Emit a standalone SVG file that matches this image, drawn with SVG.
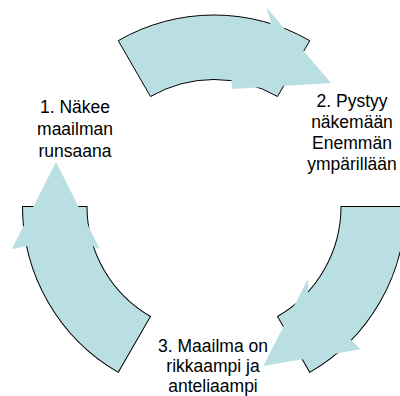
<svg xmlns="http://www.w3.org/2000/svg" xmlns:xlink="http://www.w3.org/1999/xlink" width="400" height="396" viewBox="0 0 400 396">
  <style>
    .body { fill: #badfe3; stroke: #000; stroke-width: 1; stroke-linejoin: miter; }
    .head { fill: #badfe3; stroke: none; }
    .label { font-family: "Liberation Sans", Arial, sans-serif; font-size: 17.5px; fill: #000; text-anchor: middle; }
  </style>
  <defs>
    <!-- one 60-degree band of the ring, centre (214,206.5), radii 191.5 / 127 -->
    <path id="band" d="M 118.25 40.66 A 191.5 191.5 0 0 1 309.75 40.66 L 277.5 96.51 A 127 127 0 0 0 150.5 96.51 Z"/>
  </defs>

  <g id="connectors">
    <g id="arrow-1-2">
      <use xlink:href="#band" class="body"/>
      <polygon class="head" points="331,83 232,89 231.5,80.7 271,22.5 266,7"/>
    </g>
    <g id="arrow-2-3">
      <use xlink:href="#band" class="body" transform="rotate(120 214 206.5)"/>
      <polygon class="head" points="263.3,366 308.3,278.3 308,292 351.5,340.5 360.7,349.3"/>
    </g>
    <g id="arrow-3-1">
      <use xlink:href="#band" class="body" transform="rotate(240 214 206.5)"/>
      <polygon class="head" points="56,162 11.7,249.3 27,246 93.5,246.5 100,249.3"/>
    </g>
  </g>

  <g id="node-1">
    <text class="label" x="75" y="113">1. Näkee</text>
    <text class="label" x="75" y="135">maailman</text>
    <text class="label" x="75" y="157">runsaana</text>
  </g>
  <g id="node-2">
    <text class="label" x="352" y="107">2. Pystyy</text>
    <text class="label" x="352" y="128">näkemään</text>
    <text class="label" x="352" y="149">Enemmän</text>
    <text class="label" x="352" y="170">ympärillään</text>
  </g>
  <g id="node-3">
    <text class="label" x="213" y="352">3. Maailma on</text>
    <text class="label" x="213" y="372">rikkaampi ja</text>
    <text class="label" x="213" y="391.5">anteliaampi</text>
  </g>
</svg>
